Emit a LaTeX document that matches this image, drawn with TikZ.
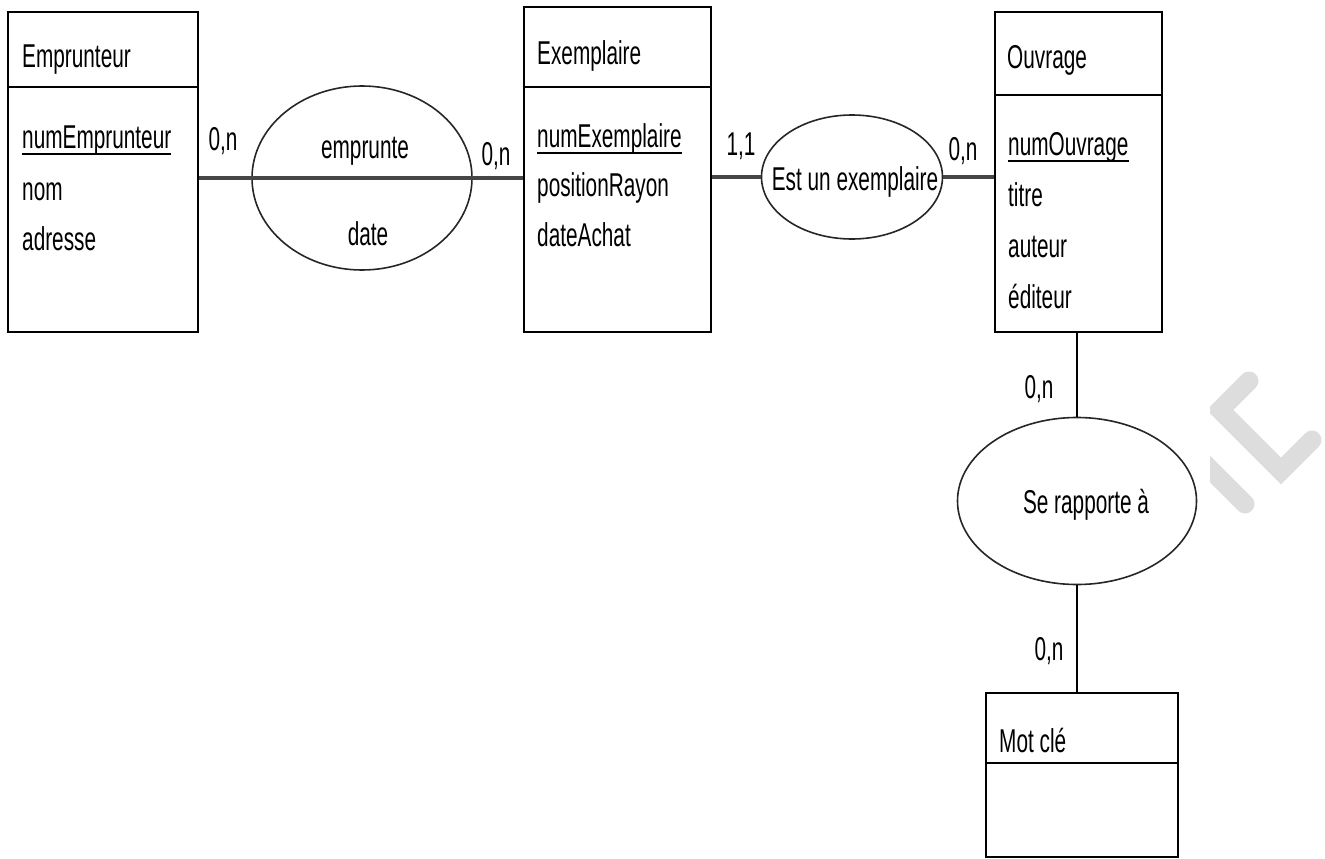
\documentclass[tikz,border=0pt]{standalone}
\usepackage{fontspec}
\setmainfont{Liberation Sans}[FakeStretch=0.63]
\usetikzlibrary{shapes.geometric}
\definecolor{wmgray}{RGB}{221,221,221}
\definecolor{linegray}{RGB}{70,70,70}
\tikzset{
  entbox/.style={draw=black, line width=2.4pt, inner sep=0pt, fill=none},
  divider/.style={draw=black, line width=2.4pt},
  relell/.style={ellipse, draw=black!85, line width=1.6pt, inner sep=0pt},
  txt/.style={anchor=base west, inner sep=0pt, font=\fontsize{33pt}{38pt}\selectfont},
  ctxt/.style={anchor=base, inner sep=0pt, font=\fontsize{33pt}{38pt}\selectfont},
  conn/.style={draw=linegray, line width=3.2pt},
  vconn/.style={draw=black, line width=1.5pt},
  ulin/.style={draw=black, line width=2pt},
  wm/.style={draw=wmgray, line width=19pt, line cap=round, line join=miter}
}
\begin{document}
\begin{tikzpicture}[x=1pt,y=-1pt]
\useasboundingbox (0,0) rectangle (1325,859);

% watermark fragment
\begin{scope}
\clip (1210,300) rectangle (1325,560);
\draw[wm] (1249,381) -- (1220,410) -- (1281,471) -- (1312,440);
\draw[wm] (1195,454) -- (1245,504);
\end{scope}

% entity boxes
\node[entbox, minimum width=190pt, minimum height=320pt] (emp) at (103,172) {};
\node[entbox, minimum width=187pt, minimum height=325pt] (exe) at (617.5,169.5) {};
\node[entbox, minimum width=167pt, minimum height=320pt] (ouv) at (1078.5,172) {};
\node[entbox, minimum width=192pt, minimum height=164pt] (mot) at (1082,775) {};

\draw[divider] (emp.west |- 0,87) -- (emp.east |- 0,87);
\draw[divider] (exe.west |- 0,87) -- (exe.east |- 0,87);
\draw[divider] (ouv.west |- 0,95) -- (ouv.east |- 0,95);
\draw[divider] (mot.west |- 0,763) -- (mot.east |- 0,763);

% titles
\node[txt] (tEmp) at (22,67) {Emprunteur};
\node[txt] (tExe) at (537,65) {Exemplaire};
\node[txt] (tOuv) at (1007,68) {Ouvrage};
\node[txt] (tMot) at (999,752) {Mot clé};

% attributes
\node[txt] (aEmp1) at (22,148) {numEmprunteur};
\node[txt] (aEmp2) at (22,200) {nom};
\node[txt] (aEmp3) at (22,250) {adresse};
\draw[ulin] ([yshift=-6pt]aEmp1.base west) -- ([yshift=-6pt]aEmp1.base east);

\node[txt] (aExe1) at (537,147) {numExemplaire};
\node[txt] (aExe2) at (537,196) {positionRayon};
\node[txt] (aExe3) at (537,246) {dateAchat};
\draw[ulin] ([yshift=-6pt]aExe1.base west) -- ([yshift=-6pt]aExe1.base east);

\node[txt] (aOuv1) at (1008,155) {numOuvrage};
\node[txt] (aOuv2) at (1008,206) {titre};
\node[txt] (aOuv3) at (1008,257) {auteur};
\node[txt] (aOuv4) at (1008,308) {éditeur};
\draw[ulin] ([yshift=-6pt]aOuv1.base west) -- ([yshift=-6pt]aOuv1.base east);

% relationships
\node[relell, minimum width=220pt, minimum height=184pt] (empr) at (362,178) {};
\node[ctxt] (tEmpr) at (365,158) {emprunte};
\node[ctxt] (tDate) at (368,245) {date};

\node[relell, minimum width=181pt, minimum height=124pt] (est) at (852,177) {};
\node[ctxt] (tEst) at (855,190) {Est un exemplaire};

\node[relell, minimum width=239pt, minimum height=167pt] (sra) at (1077,501) {};
\node[ctxt] (tSra) at (1086,513) {Se rapporte à};

% connectors
\draw[conn] (emp.east |- empr.center) -- (exe.west |- empr.center);
\draw[conn] (exe.east |- est.west) -- (est.west);
\draw[conn] (est.east) -- (ouv.west |- est.east);
\draw[vconn] (sra.north) -- (sra.north |- ouv.south);
\draw[vconn] (sra.south) -- (sra.south |- mot.north);

% cardinalities
\node[ctxt] (c1) at (223,150) {0,n};
\node[ctxt] (c2) at (496,165) {0,n};
\node[ctxt] (c3) at (741,155) {1,1};
\node[ctxt] (c4) at (963,160) {0,n};
\node[ctxt] (c5) at (1039,398) {0,n};
\node[ctxt] (c6) at (1049,660) {0,n};
\end{tikzpicture}
\end{document}
